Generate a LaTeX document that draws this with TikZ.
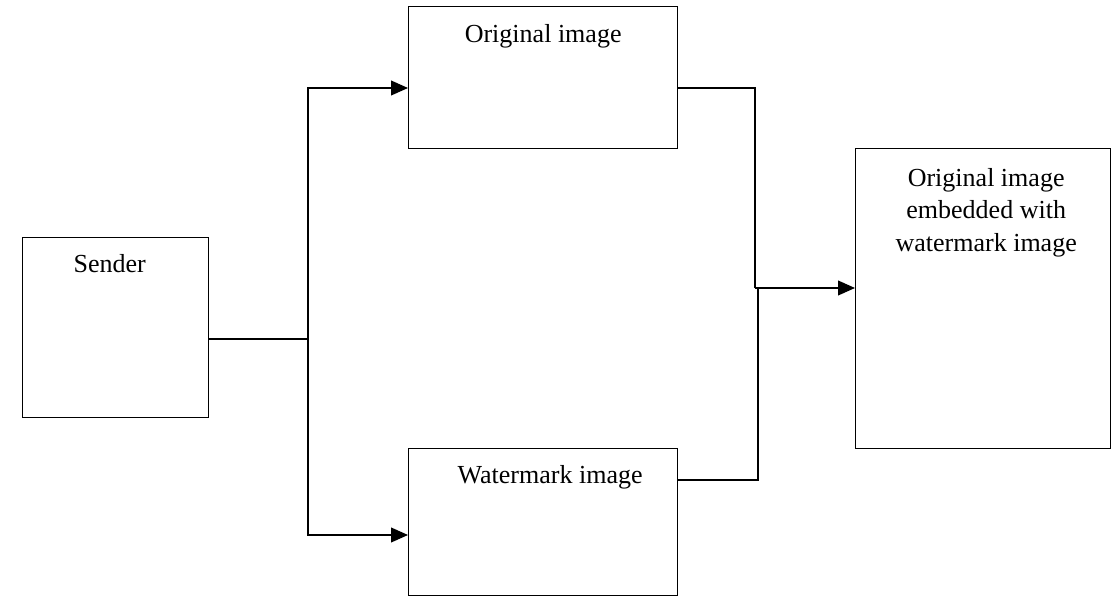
\documentclass[tikz,border=0pt]{standalone}
\usepackage{fontspec}
\setmainfont{Liberation Serif}
\usetikzlibrary{calc,positioning,arrows.meta}
\tikzstyle{blk}=[draw,line width=0.9pt,inner sep=0,anchor=north west]
\tikzstyle{wire}=[line width=0.9pt]
\tikzstyle{feed}=[wire,-{Triangle[length=12pt,width=10.5pt]}]
\tikzstyle{caption}=[font=\fontsize{18.5}{23}\selectfont,inner sep=0,align=center]

\begin{document}
\begin{tikzpicture}[x=0.025cm,y=-0.025cm]
    \useasboundingbox (0,0) rectangle (1112,597);

    \node [blk,minimum width=4.65cm,minimum height=4.5cm] (sender) at (22,237) {};
    \node [blk,minimum width=6.725cm,minimum height=3.55cm] (orig) at (408,6) {};
    \node [blk,minimum width=6.725cm,minimum height=3.675cm] (wm) at (408,448) {};
    \node [blk,minimum width=6.375cm,minimum height=7.5cm] (result) at (855,148) {};

    % texts
    \node [caption,anchor=base] (sendertxt) at ($(sender.north)+(-6,36)$) {Sender};
    \node [caption,anchor=base] (origtxt) at ($(orig.north)+(0,37)$) {Original image};
    \node [caption,anchor=base] (wmtxt) at ($(wm.north)+(7,35)$) {Watermark image};
    \node [caption,anchor=north] (resulttxt) at ($(result.north)+(3,20)$)
      {Original image\\embedded with\\watermark image};

    % wiring
    \coordinate (fork) at (308,339);
    \coordinate (merge) at (755,288);
    \draw [wire] (sender.east |- fork) -- (fork);
    \draw [feed] (fork) |- ($(orig.north west)+(0,82)$);
    \draw [feed] (fork) |- ($(wm.north west)+(0,87)$);
    \draw [wire] ($(orig.north east)+(0,82)$) -| (merge);
    \draw [wire] ($(wm.north east)+(0,32)$) -| ($(merge)+(3,0)$);
    \draw [feed] (merge) -- (merge -| result.west);
  \end{tikzpicture}
\end{document}
